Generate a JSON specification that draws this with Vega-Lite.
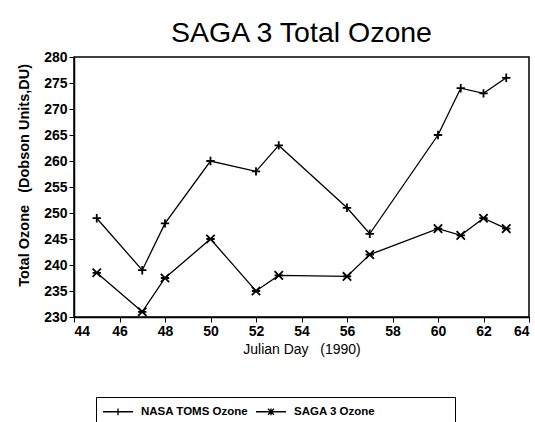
{
  "$schema": "https://vega.github.io/schema/vega-lite/v6.json",
  "width": 455,
  "height": 260,
  "autosize": "none",
  "padding": {"left": 74, "top": 57, "right": 6, "bottom": 105},
  "background": "white",
  "title": {
    "text": "SAGA 3 Total Ozone",
    "font": "Liberation Sans",
    "fontSize": 28.5,
    "fontWeight": "normal",
    "color": "black",
    "anchor": "middle",
    "offset": 3
  },
  "config": {
    "view": {"stroke": "black", "strokeWidth": 1.5},
    "axis": {
      "grid": false,
      "domainColor": "black",
      "domainWidth": 1.5,
      "tickColor": "black",
      "tickSize": 5,
      "labelFont": "Liberation Sans",
      "labelFontWeight": "bold",
      "labelFontSize": 14,
      "labelColor": "black",
      "titleFont": "Liberation Sans",
      "titleColor": "black"
    }
  },
  "data": {
    "values": [
      {"day": 45, "ozone": 249, "series": "NASA TOMS Ozone"},
      {"day": 47, "ozone": 239, "series": "NASA TOMS Ozone"},
      {"day": 48, "ozone": 248, "series": "NASA TOMS Ozone"},
      {"day": 50, "ozone": 260, "series": "NASA TOMS Ozone"},
      {"day": 52, "ozone": 258, "series": "NASA TOMS Ozone"},
      {"day": 53, "ozone": 263, "series": "NASA TOMS Ozone"},
      {"day": 56, "ozone": 251, "series": "NASA TOMS Ozone"},
      {"day": 57, "ozone": 246, "series": "NASA TOMS Ozone"},
      {"day": 60, "ozone": 265, "series": "NASA TOMS Ozone"},
      {"day": 61, "ozone": 274, "series": "NASA TOMS Ozone"},
      {"day": 62, "ozone": 273, "series": "NASA TOMS Ozone"},
      {"day": 63, "ozone": 276, "series": "NASA TOMS Ozone"},
      {"day": 45, "ozone": 238.5, "series": "SAGA 3 Ozone"},
      {"day": 47, "ozone": 231, "series": "SAGA 3 Ozone"},
      {"day": 48, "ozone": 237.5, "series": "SAGA 3 Ozone"},
      {"day": 50, "ozone": 245, "series": "SAGA 3 Ozone"},
      {"day": 52, "ozone": 235, "series": "SAGA 3 Ozone"},
      {"day": 53, "ozone": 238, "series": "SAGA 3 Ozone"},
      {"day": 56, "ozone": 237.8, "series": "SAGA 3 Ozone"},
      {"day": 57, "ozone": 242, "series": "SAGA 3 Ozone"},
      {"day": 60, "ozone": 247, "series": "SAGA 3 Ozone"},
      {"day": 61, "ozone": 245.7, "series": "SAGA 3 Ozone"},
      {"day": 62, "ozone": 249, "series": "SAGA 3 Ozone"},
      {"day": 63, "ozone": 247, "series": "SAGA 3 Ozone"}
    ]
  },
  "encoding": {
    "x": {
      "field": "day",
      "type": "quantitative",
      "scale": {"domain": [44, 64], "nice": false, "zero": false},
      "axis": {"values": [44, 46, 48, 50, 52, 54, 56, 58, 60, 62, 64], "title": "Julian Day\u00a0\u00a0\u00a0(1990)", "titleFontSize": 14, "titleFontWeight": "normal", "titlePadding": 4, "labelPadding": 2}
    },
    "y": {
      "field": "ozone",
      "type": "quantitative",
      "scale": {"domain": [230, 280], "nice": false, "zero": false},
      "axis": {"values": [230, 235, 240, 245, 250, 255, 260, 265, 270, 275, 280], "title": "\u200b\u00a0\u00a0\u00a0\u00a0\u00a0\u00a0Total Ozone\u00a0\u00a0\u00a0(Dobson Units,DU)", "titleFontSize": 14.5, "titleFontWeight": "bold", "titlePadding": 12, "labelPadding": 2}
    }
  },
  "layer": [
    {
      "mark": {"type": "line", "color": "black", "strokeWidth": 1.3},
      "encoding": {"detail": {"field": "series"}}
    },
    {
      "mark": {"type": "point", "filled": false, "color": "black", "strokeWidth": 1.8, "opacity": 1, "size": 70},
      "encoding": {
        "shape": {
          "field": "series",
          "type": "nominal",
          "scale": {"domain": ["NASA TOMS Ozone", "SAGA 3 Ozone"], "range": ["M-1,0L1,0M0,-1L0,1", "M-1,-1L1,1M-1,1L1,-1M-1,0L1,0"]},
          "legend": null
        }
      }
    },
    {
      "transform": [{"filter": "false"}],
      "mark": {"type": "point", "filled": false, "color": "black", "strokeWidth": 1.3, "opacity": 1},
      "encoding": {
        "shape": {
          "field": "series",
          "type": "nominal",
          "scale": {"domain": ["NASA TOMS Ozone", "SAGA 3 Ozone"], "range": ["M-1,0L3,0M1,-0.45L1,0.45", "M-1,0L3,0M0.6,-0.4L1.4,0.4M0.6,0.4L1.4,-0.4M1,-0.45L1,0.45"]},
          "legend": {
            "title": null,
            "orient": "none",
            "legendX": 22,
            "legendY": 340,
            "direction": "horizontal",
            "columns": 2,
            "strokeColor": "black",
            "fillColor": "white",
            "padding": 6,
            "symbolSize": 225,
            "symbolStrokeWidth": 1.3,
            "symbolStrokeColor": "black",
            "symbolFillColor": "transparent",
            "symbolOpacity": 1,
            "labelFont": "Liberation Sans",
            "labelFontSize": 11.5,
            "labelFontWeight": "bold",
            "labelColor": "black",
            "labelOffset": 22,
            "columnPadding": 4,
            "labelLimit": 400,
            "labelExpr": "datum.label == 'SAGA 3 Ozone' ? datum.label + '\u00a0\u00a0\u00a0\u00a0\u00a0\u00a0\u00a0\u00a0\u00a0\u00a0\u00a0\u00a0\u00a0\u00a0\u00a0\u00a0\u00a0\u00a0\u00a0\u00a0\u00a0\u00a0\u00a0\u200b' : datum.label"
          }
        }
      }
    }
  ],
  "resolve": {"scale": {"shape": "independent"}}
}
